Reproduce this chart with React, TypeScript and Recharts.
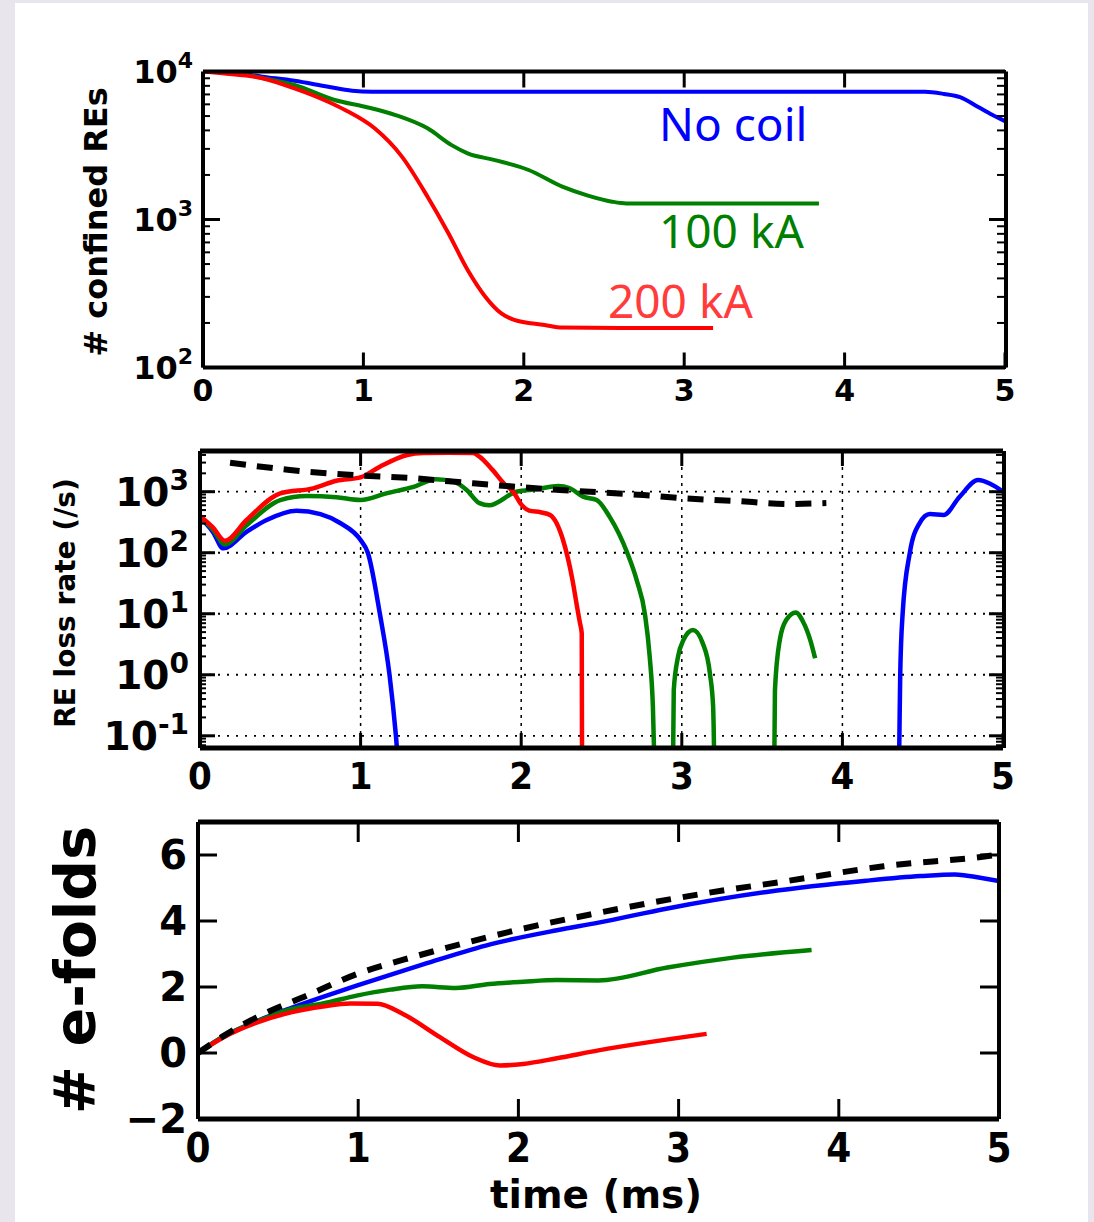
import React from 'react'
import { LineChart, Line, XAxis, YAxis, CartesianGrid } from 'recharts'

// time axis (ms)
const T_TICKS = [0, 1, 2, 3, 4, 5]

// panel 1: # confined REs  [t, N]
const confNoCoil = [[0, 10000], [0.2, 9800], [0.37, 9230], [0.57, 8670], [0.78, 7890], [0.93, 7420], [1.05, 7300], [2, 7300], [3, 7300], [4, 7300], [4.5, 7300], [4.62, 7050], [4.72, 6700], [4.83, 5780], [4.92, 5100], [5, 4620]]
const conf100 = [[0, 10000], [0.2, 9750], [0.37, 9050], [0.57, 8110], [0.82, 6420], [1.01, 5780], [1.2, 5080], [1.4, 4130], [1.55, 3180], [1.65, 2800], [1.82, 2520], [2.03, 2160], [2.24, 1667], [2.4, 1450], [2.55, 1320], [2.64, 1285], [3.2, 1285], [3.84, 1285]]
const conf200 = [[0, 10000], [0.12, 9720], [0.37, 9000], [0.57, 7690], [0.78, 6250], [0.885, 5500], [1.07, 4130], [1.24, 2660], [1.4, 1425], [1.53, 807], [1.65, 456], [1.76, 301], [1.86, 232], [1.94, 210], [2.13, 194], [2.24, 186], [2.6, 185], [3.18, 185]]

// panel 2: RE loss rate (/s)
const lossNoCoilA = [[0, 380], [0.08, 220], [0.145, 118], [0.29, 220], [0.415, 344], [0.6, 489], [0.75, 430], [0.87, 310], [1.0, 161], [1.045, 100], [1.12, 10], [1.18, 1], [1.22, 0.1], [1.25, 0.01]]
const lossNoCoilB = [[4.35, 0.01], [4.355, 0.1], [4.36, 1], [4.375, 10], [4.42, 100], [4.48, 303], [4.545, 430], [4.63, 415], [4.73, 828], [4.845, 1550], [4.92, 1350], [5, 1000]]
const loss200 = [[0, 400], [0.08, 260], [0.156, 157], [0.29, 344], [0.5, 940], [0.705, 1136], [0.85, 1515], [1.0, 1720], [1.12, 2570], [1.29, 4000], [1.39, 4300], [1.55, 4350], [1.7, 4300], [1.74, 3750], [1.82, 2300], [1.9, 1300], [1.95, 1000], [2.0, 620], [2.05, 490], [2.12, 460], [2.18, 415], [2.26, 163], [2.32, 35], [2.35, 12], [2.366, 7], [2.377, 4.8], [2.38, 0.001]]
const loss100A = [[0, 390], [0.08, 240], [0.156, 137], [0.29, 282], [0.5, 730], [0.664, 850], [0.85, 810], [1.0, 730], [1.16, 940], [1.33, 1200], [1.47, 1600], [1.58, 1460], [1.66, 1070], [1.74, 650], [1.8, 600], [1.97, 1000], [2.1, 1100], [2.23, 1240], [2.3, 1150], [2.385, 830], [2.47, 730], [2.55, 390], [2.66, 100], [2.72, 35], [2.77, 10], [2.8, 2], [2.82, 0.3], [2.835, 0.01]]
const loss100B = [[2.943, 0.01], [2.95, 0.56], [2.977, 2], [3.01, 3.7], [3.07, 5.4], [3.13, 3.3], [3.175, 1.05], [3.195, 0.3], [3.205, 0.01]]
const loss100C = [[3.574, 0.01], [3.58, 0.56], [3.61, 3.7], [3.65, 7.9], [3.71, 10.5], [3.755, 7.4], [3.8, 3.7], [3.83, 1.87]]
const lossRef = [[0.187, 2990], [0.56, 2270], [0.955, 1870], [1.33, 1660], [1.7, 1370], [2.24, 1070], [2.76, 880], [3.01, 780], [3.32, 710], [3.67, 630], [3.9, 650]]

// panel 3: # e-folds
const foldRef = [[0, 0], [0.16, 0.52], [0.366, 1.08], [0.68, 1.74], [0.99, 2.39], [1.365, 2.94], [1.72, 3.4], [2.03, 3.77], [2.45, 4.2], [3.13, 4.81], [3.675, 5.21], [4.28, 5.66], [4.96, 5.99], [5, 6.02]]
const foldNoCoil = [[0, 0], [0.16, 0.5], [0.37, 0.97], [0.58, 1.36], [0.78, 1.7], [0.99, 2.04], [1.41, 2.69], [1.83, 3.3], [2.24, 3.72], [2.5, 3.95], [2.93, 4.38], [3.55, 4.88], [4.17, 5.22], [4.51, 5.36], [4.725, 5.41], [4.8, 5.37], [5, 5.21]]
const fold100 = [[0, 0], [0.16, 0.5], [0.37, 0.96], [0.58, 1.33], [0.78, 1.5], [0.99, 1.74], [1.2, 1.92], [1.4, 2.02], [1.61, 1.97], [1.82, 2.09], [2.03, 2.16], [2.24, 2.21], [2.5, 2.2], [2.93, 2.59], [3.34, 2.89], [3.83, 3.12]]
const fold200 = [[0, 0], [0.16, 0.48], [0.37, 0.93], [0.58, 1.23], [0.78, 1.41], [0.95, 1.5], [1.12, 1.49], [1.28, 1.18], [1.51, 0.48], [1.72, -0.13], [1.885, -0.38], [2.03, -0.33], [2.24, -0.16], [2.5, 0.08], [3.175, 0.58]]

const CONF_TICKS = [100, 1000, 10000]
const CONF_MINOR = [200, 300, 400, 500, 600, 700, 800, 900, 2000, 3000, 4000, 5000, 6000, 7000, 8000, 9000]
const LOSS_TICKS = [0.1, 1, 10, 100, 1000]
const LOSS_MINOR = [0.07, 0.08, 0.09, 0.2, 0.3, 0.4, 0.5, 0.6, 0.7, 0.8, 0.9, 2, 3, 4, 5, 6, 7, 8, 9, 20, 30, 40, 50, 60, 70, 80, 90, 200, 300, 400, 500, 600, 700, 800, 900, 2000, 3000, 4000]
const FOLD_TICKS = [-2, 0, 2, 4, 6]

const BLUE = '#0000ff'
const GREEN = '#007f00'
const RED = '#ff0000'
const FONT = '"DejaVu Sans", Verdana, sans-serif'
const NOTE_FONT = '"Noto Sans", "Open Sans", sans-serif'

const pts = (arr: number[][]) => arr.map(([t, v]) => ({ t, v }))

const frame = (w = 4) => ({ stroke: '#000', strokeWidth: w })

// tick renderers (ticks point inwards like matplotlib)
const bottomTick = (len: number, fs: number, gap: number, sx = 1) => (p: any) => {
  const { x, y, payload } = p
  return (
    <g>
      <line x1={x} y1={y} x2={x} y2={y - len} stroke="#000" strokeWidth={3} />
      <text
        transform={`translate(${x},${y + gap + fs * 0.73}) scale(${sx},1)`}
        textAnchor="middle"
        fontFamily={FONT}
        fontWeight="bold"
        fontSize={fs}
        fill="#000"
      >
        {payload.value}
      </text>
    </g>
  )
}

const topTick = (len: number) => (p: any) => (
  <line x1={p.x} y1={p.y} x2={p.x} y2={p.y + len} stroke="#000" strokeWidth={3} />
)

const leftLine = (len: number, sw = 3) => (p: any) => (
  <line x1={p.x} y1={p.y} x2={p.x + len} y2={p.y} stroke="#000" strokeWidth={sw} />
)

const rightLine = (len: number, sw = 3) => (p: any) => (
  <line x1={p.x} y1={p.y} x2={p.x - len} y2={p.y} stroke="#000" strokeWidth={sw} />
)

const logTick = (len: number, fs: number, supFs: number, supDy: number, gap: number) => (p: any) => {
  const { x, y, payload } = p
  const e = Math.round(Math.log10(payload.value))
  return (
    <g>
      <line x1={x} y1={y} x2={x + len} y2={y} stroke="#000" strokeWidth={3} />
      <text x={x - gap} y={y + fs * 0.36} textAnchor="end" fontFamily={FONT} fontWeight="bold" fontSize={fs} fill="#000">
        <tspan>10</tspan>
        <tspan dy={-supDy} fontSize={supFs}>{e < 0 ? `-${-e}` : e}</tspan>
      </text>
    </g>
  )
}

const linTick = (len: number, fs: number, gap: number) => (p: any) => {
  const { x, y, payload } = p
  const v = payload.value
  return (
    <g>
      <line x1={x} y1={y} x2={x + len} y2={y} stroke="#000" strokeWidth={3} />
      <text x={x - gap} y={y + fs * 0.36} textAnchor="end" fontFamily={FONT} fontWeight="bold" fontSize={fs} fill="#000">
        {v < 0 ? `\u2212${-v}` : v}
      </text>
    </g>
  )
}

const series = (data: number[][], color: string, width: number, key: string, dash?: string) => (
  <Line
    key={key}
    data={pts(data)}
    dataKey="v"
    type="monotone"
    stroke={color}
    strokeWidth={width}
    strokeDasharray={dash}
    dot={false}
    activeDot={false}
    isAnimationActive={false}
  />
)

// axes get a 1px size (0 would not be drawn), margins account for it
const AX = { interval: 0 as const, tickSize: 0, tickMargin: 0, tickLine: false, allowDataOverflow: true }

export default function App() {
  return (
    <div style={{ position: 'absolute', left: 0, top: 0, width: 1094, height: 1222, background: '#e9e5ec', overflow: 'hidden' }}>
      <div style={{ position: 'absolute', left: 15, top: 3, width: 1073, height: 1219, background: '#fff' }} />

      {/* panel 1 */}
      <div style={{ position: 'absolute', left: 0, top: 0 }}>
        <LineChart width={1094} height={420} margin={{ top: 70.5, right: 87, bottom: 51.5, left: 201 }}>
          {series(confNoCoil, BLUE, 4, 'b')}
          {series(conf100, GREEN, 4, 'g')}
          {series(conf200, RED, 4, 'r')}
          <XAxis {...AX} dataKey="t" type="number" domain={[0, 5]} ticks={T_TICKS} height={1} axisLine={frame()} tick={bottomTick(15, 30, 12)} />
          <XAxis {...AX} xAxisId="top" orientation="top" dataKey="t" type="number" domain={[0, 5]} ticks={[1, 2, 3, 4]} height={1} axisLine={frame()} tick={topTick(16)} />
          <YAxis {...AX} type="number" scale="log" domain={[100, 10000]} ticks={CONF_TICKS} width={1} axisLine={frame()} tick={logTick(17, 32, 22, 15, 10)} />
          <YAxis {...AX} yAxisId="minL" type="number" scale="log" domain={[100, 10000]} ticks={CONF_MINOR} width={1} axisLine={false} tick={leftLine(8, 2)} />
          <YAxis {...AX} yAxisId="right" orientation="right" type="number" scale="log" domain={[100, 10000]} ticks={CONF_TICKS} width={1} axisLine={frame()} tick={rightLine(17)} />
          <YAxis {...AX} yAxisId="minR" orientation="right" type="number" scale="log" domain={[100, 10000]} ticks={CONF_MINOR} width={1} axisLine={false} tick={rightLine(8, 2)} />
        </LineChart>
      </div>

      {/* panel 2 */}
      <div style={{ position: 'absolute', left: 0, top: 420 }}>
        <LineChart width={1094} height={400} margin={{ top: 30, right: 89, bottom: 71, left: 198 }}>
          <CartesianGrid horizontal={false} vertical stroke="#000" strokeWidth={1.5} strokeDasharray="3 5" />
          <CartesianGrid horizontal vertical={false} stroke="#000" strokeWidth={1.8} strokeDasharray="2 7" />
          {series(lossNoCoilA, BLUE, 4.5, 'b1')}
          {series(lossNoCoilB, BLUE, 4.5, 'b2')}
          {series(loss100A, GREEN, 4.5, 'g1')}
          {series(loss100B, GREEN, 4.5, 'g2')}
          {series(loss100C, GREEN, 4.5, 'g3')}
          {series(loss200, RED, 4.5, 'r')}
          {series(lossRef, '#000', 6, 'k', '16 11')}
          <XAxis {...AX} dataKey="t" type="number" domain={[0, 5]} ticks={T_TICKS} height={1} axisLine={frame(5)} tick={bottomTick(15, 38, 13, 0.9)} />
          <XAxis {...AX} xAxisId="top" orientation="top" dataKey="t" type="number" domain={[0, 5]} ticks={[1, 2, 3, 4]} height={1} axisLine={frame(5)} tick={topTick(15)} />
          <YAxis {...AX} type="number" scale="log" domain={[Math.pow(10, -1.2), Math.pow(10, 3.667)]} ticks={LOSS_TICKS} width={1} axisLine={frame()} tick={logTick(15, 39, 28, 16, 11)} />
          <YAxis {...AX} yAxisId="minL" type="number" scale="log" domain={[Math.pow(10, -1.2), Math.pow(10, 3.667)]} ticks={LOSS_MINOR} width={1} axisLine={false} tick={leftLine(7, 2)} />
          <YAxis {...AX} yAxisId="right" orientation="right" type="number" scale="log" domain={[Math.pow(10, -1.2), Math.pow(10, 3.667)]} ticks={LOSS_TICKS} width={1} axisLine={frame()} tick={rightLine(15)} />
          <YAxis {...AX} yAxisId="minR" orientation="right" type="number" scale="log" domain={[Math.pow(10, -1.2), Math.pow(10, 3.667)]} ticks={LOSS_MINOR} width={1} axisLine={false} tick={rightLine(7, 2)} />
        </LineChart>
      </div>

      {/* panel 3 */}
      <div style={{ position: 'absolute', left: 0, top: 800 }}>
        <LineChart width={1094} height={422} margin={{ top: 21, right: 94, bottom: 102, left: 197 }}>
          {series(foldNoCoil, BLUE, 4.5, 'b')}
          {series(fold100, GREEN, 4.5, 'g')}
          {series(fold200, RED, 4.5, 'r')}
          {series(foldRef, '#000', 6, 'k', '15 12')}
          <XAxis {...AX} dataKey="t" type="number" domain={[0, 5]} ticks={T_TICKS} height={1} axisLine={frame(5)} tick={bottomTick(20, 40, 14, 0.9)} />
          <XAxis {...AX} xAxisId="top" orientation="top" dataKey="t" type="number" domain={[0, 5]} ticks={[1, 2, 3, 4]} height={1} axisLine={frame(5)} tick={topTick(20)} />
          <YAxis {...AX} type="number" domain={[-2, 7]} ticks={FOLD_TICKS} width={1} axisLine={frame()} tick={linTick(19, 40, 11)} />
          <YAxis {...AX} yAxisId="right" orientation="right" type="number" domain={[-2, 7]} ticks={FOLD_TICKS} width={1} axisLine={frame()} tick={rightLine(19)} />
        </LineChart>
      </div>

      {/* titles and annotations */}
      <svg width={1094} height={1222} style={{ position: 'absolute', left: 0, top: 0, pointerEvents: 'none' }}>
        <text transform="translate(96,222) rotate(-90)" textAnchor="middle" dominantBaseline="central" fontFamily={FONT} fontWeight="bold" fontSize={32}>
          # confined REs
        </text>
        <text transform="translate(65,603) rotate(-90)" textAnchor="middle" dominantBaseline="central" fontFamily={FONT} fontWeight="bold" fontSize={28}>
          RE loss rate (/s)
        </text>
        <text transform="translate(75,970) rotate(-90)" textAnchor="middle" dominantBaseline="central" fontFamily={FONT} fontWeight="bold" fontSize={57}>
          # e-folds
        </text>
        <text x={596} y={1208} textAnchor="middle" fontFamily={FONT} fontWeight="bold" fontSize={39}>
          time (ms)
        </text>
        <text x={659} y={141} fontFamily={NOTE_FONT} fontSize={46} fill={BLUE}>No coil</text>
        <text x={659} y={248} fontFamily={NOTE_FONT} fontSize={46} fill={GREEN}>100 kA</text>
        <text x={608} y={318} fontFamily={NOTE_FONT} fontSize={46} fill="#ff3b3b">200 kA</text>
      </svg>
    </div>
  )
}
